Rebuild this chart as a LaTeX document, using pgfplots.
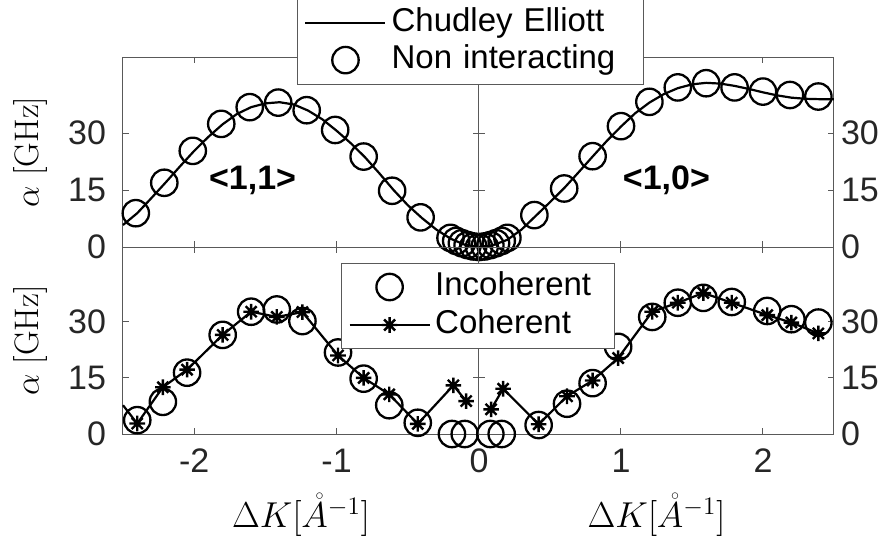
\documentclass[border=0pt]{standalone}
\usepackage{fix-cm}
\usepackage{fontspec}
\newfontfamily\arial{Liberation Sans}
\usepackage{pgfplots}
\pgfplotsset{compat=1.18}

% MATLAB-like asterisk (plus + cross)
\pgfdeclareplotmark{ast8}{%
  \pgfpathmoveto{\pgfqpoint{-\pgfplotmarksize}{0pt}}%
  \pgfpathlineto{\pgfqpoint{\pgfplotmarksize}{0pt}}%
  \pgfpathmoveto{\pgfqpoint{0pt}{-\pgfplotmarksize}}%
  \pgfpathlineto{\pgfqpoint{0pt}{\pgfplotmarksize}}%
  \pgfpathmoveto{\pgfqpoint{-.707\pgfplotmarksize}{-.707\pgfplotmarksize}}%
  \pgfpathlineto{\pgfqpoint{.707\pgfplotmarksize}{.707\pgfplotmarksize}}%
  \pgfpathmoveto{\pgfqpoint{-.707\pgfplotmarksize}{.707\pgfplotmarksize}}%
  \pgfpathlineto{\pgfqpoint{.707\pgfplotmarksize}{-.707\pgfplotmarksize}}%
  \pgfusepathqstroke}

\pgfplotsset{
  panel/.style={
    scale only axis,
    ymin=0, ymax=50,
    ytick={0,15,30}, yticklabels={0,15,30},
    tick align=inside,
    major tick length=3pt,
    axis line style={black!65, line width=0.5pt},
    tick style={black!65, line width=0.5pt},
    tick label style={font=\arial\fontsize{17}{20}\selectfont, text=black!85},
    xticklabel style={yshift=-4pt},
    clip=false,
    legend cell align=left,
  },
  leftpanel/.style={panel, xmin=-2.5, xmax=0, width=178pt,
    yticklabel style={xshift=-5pt},
    every axis y label/.style={at={(axis description cs:-0.2612,0.5)}, rotate=90, anchor=center},
    ylabel={$\alpha\ \mathrm{[GHz]}$},
    ylabel style={font=\fontsize{17}{20}\selectfont}},
  rightpanel/.style={panel, xmin=0, xmax=2.5, width=177.5pt,
    yticklabel pos=right},
  circ/.style={only marks, mark=o, mark size=6.6pt, line width=1.15pt, black},
  ce/.style={black, line width=1.1pt, no marks},
  coh/.style={black, line width=1.1pt, mark=ast8, mark size=3.9pt,
    mark options={line width=1.2pt}},
  legline/.style={legend image code/.code={\path[draw=none] (0pt,0pt) -- (40pt,0pt);
      \draw[##1] (0pt,0pt) -- (40pt,0pt);}},
  legmark/.style={legend image code/.code={\path[draw=none] (0pt,0pt) -- (40pt,0pt);
      \draw[##1] plot coordinates {(20pt,0pt)};}},
  leglinemark/.style={legend image code/.code={\path[draw=none] (0pt,0pt) -- (40pt,0pt);
      \draw[##1, mark repeat=2, mark phase=2] plot coordinates {(0pt,0pt)(20pt,0pt)(40pt,0pt)};}},
}

\begin{document}
\begin{tikzpicture}
\useasboundingbox (-239.5pt,-148pt) rectangle (206pt,123.5pt);

% ---------- top left <1,1>
\begin{axis}[leftpanel, height=95pt, at={(0pt,0pt)}, anchor=south east,
  xtick={-2,-1}, xticklabels={}]
  \addplot[ce] coordinates {
    (-2.5,5.8)(-2.4,8.9)(-2.3,12.9)(-2.2,17.0)(-2.1,21.2)(-2.0,25.3)
    (-1.9,29.0)(-1.8,32.3)(-1.7,35.0)(-1.6,36.8)(-1.5,37.8)(-1.4,38.1)
    (-1.3,37.5)(-1.2,35.9)(-1.1,33.6)(-1.0,30.6)(-0.9,27.3)(-0.8,23.6)
    (-0.7,19.4)(-0.6,15.0)(-0.5,11.0)(-0.4,7.6)(-0.3,4.6)(-0.2,2.2)
    (-0.1,0.6)(0,0)};
  \addplot[circ] coordinates {
    (-2.41,8.9)(-2.21,16.9)(-2.01,25.3)(-1.81,32.4)(-1.61,36.8)(-1.41,38.0)
    (-1.21,36.0)(-1.01,30.8)(-0.81,23.8)(-0.61,14.8)(-0.41,7.8)
    (-0.2,2.4)(-0.16,1.6)(-0.12,1.0)(-0.08,0.5)(-0.04,0.15)(0,0)};
  \node[font=\arial\bfseries\fontsize{17}{20}\selectfont] at (axis cs:-1.59,17.6) {<1,1>};
\end{axis}

% ---------- top right <1,0>
\begin{axis}[rightpanel, height=95pt, at={(0pt,0pt)}, anchor=south west,
  xtick={1,2}, xticklabels={},
  legend style={at={(-0.513,1.31)}, anchor=north west, draw=black!65,
    line width=0.5pt, fill=white, inner xsep=3.5pt, inner ysep=3pt,
    font=\arial\fontsize{16.5}{19}\selectfont,
    nodes={text width=120pt, text height=12.5pt, text depth=4pt,
      inner xsep=2.5pt, inner ysep=1pt}}]
  \addplot[ce, legline] coordinates {
    (0,0)(0.1,0.5)(0.2,1.9)(0.3,4.6)(0.4,8.2)(0.5,11.8)(0.6,15.5)
    (0.7,19.6)(0.8,23.8)(0.9,27.9)(1.0,31.7)(1.1,35.2)(1.2,38.0)
    (1.3,40.2)(1.4,41.8)(1.5,42.8)(1.6,43.2)(1.7,43.0)(1.8,42.4)
    (1.9,41.6)(2.0,40.7)(2.1,39.9)(2.2,39.3)(2.3,39.0)(2.4,38.9)(2.5,38.9)};
  \addlegendentry{Chudley Elliott}
  \addplot[circ, legmark] coordinates {
    (0.04,0.15)(0.08,0.5)(0.12,1.0)(0.16,1.6)(0.2,2.4)
    (0.39,8.4)(0.60,15.4)(0.80,23.9)(1.00,31.8)(1.20,38.2)(1.40,42.0)
    (1.60,43.1)(1.80,42.0)(2.00,40.9)(2.19,40.0)(2.39,39.6)};
  \addlegendentry{Non interacting}
  \node[font=\arial\bfseries\fontsize{17}{20}\selectfont] at (axis cs:1.32,17.6) {<1,0>};
\end{axis}

% ---------- bottom left
\begin{axis}[leftpanel, height=93.5pt, at={(0pt,0pt)}, anchor=north east,
  xtick={-2,-1,0}, xticklabels={-2,-1,0},
  xlabel={$\Delta K[\mathring{A}^{-1}]$},
  xlabel style={font=\fontsize{18}{22}\selectfont, at={(axis description cs:0.5,-0.435)}, anchor=center}]
  \addplot[circ] coordinates {
    (-2.40,3.7)(-2.22,8.6)(-2.05,16.4)(-1.80,26.5)(-1.60,32.7)(-1.42,33.3)
    (-1.24,30.2)(-0.99,21.8)(-0.81,14.8)(-0.63,7.7)(-0.43,3.0)
    (-0.19,0)(-0.10,0)};
  \addplot[black, line width=1.1pt, no marks] coordinates {(-2.5,7.7)(-2.40,2.8)};
  \addplot[coh] coordinates {
    (-2.40,2.8)(-2.22,12.5)(-2.05,17.2)(-1.80,26.5)(-1.60,32.7)(-1.42,31.3)
    (-1.24,32.6)(-0.99,21.0)(-0.81,15.0)(-0.63,10.6)(-0.43,2.7)
    (-0.18,13.0)(-0.09,8.8)};
\end{axis}

% ---------- bottom right
\begin{axis}[rightpanel, height=93.5pt, at={(0pt,0pt)}, anchor=north west,
  xtick={1,2}, xticklabels={1,2},
  xlabel={$\Delta K[\mathring{A}^{-1}]$},
  xlabel style={font=\fontsize{18}{22}\selectfont, at={(axis description cs:0.5,-0.435)}, anchor=center},
  legend style={at={(-0.3887,0.9144)}, anchor=north west, draw=black!65,
    line width=0.5pt, fill=white, inner xsep=3.5pt, inner ysep=2.25pt,
    font=\arial\fontsize{16.5}{19}\selectfont,
    nodes={text width=84pt, text height=12.5pt, text depth=4.5pt,
      inner xsep=2.25pt, inner ysep=1pt}}]
  \addplot[circ, legmark] coordinates {
    (0.08,0)(0.16,0)(0.42,2.4)(0.62,8.1)(0.80,13.6)(0.98,23.3)(1.22,31.3)
    (1.40,35.1)(1.58,36.4)(1.78,35.3)(2.03,32.9)(2.20,30.7)(2.39,29.8)};
  \addlegendentry{Incoherent}
  \addplot[coh, leglinemark] coordinates {
    (0.085,6.6)(0.17,12.1)(0.42,2.6)(0.62,10.1)(0.80,14.3)(0.98,20.3)
    (1.22,32.7)(1.40,35.1)(1.58,37.7)(1.78,35.1)(2.03,31.8)(2.20,29.8)(2.39,26.9)};
  \addlegendentry{Coherent}
\end{axis}
\end{tikzpicture}
\end{document}
